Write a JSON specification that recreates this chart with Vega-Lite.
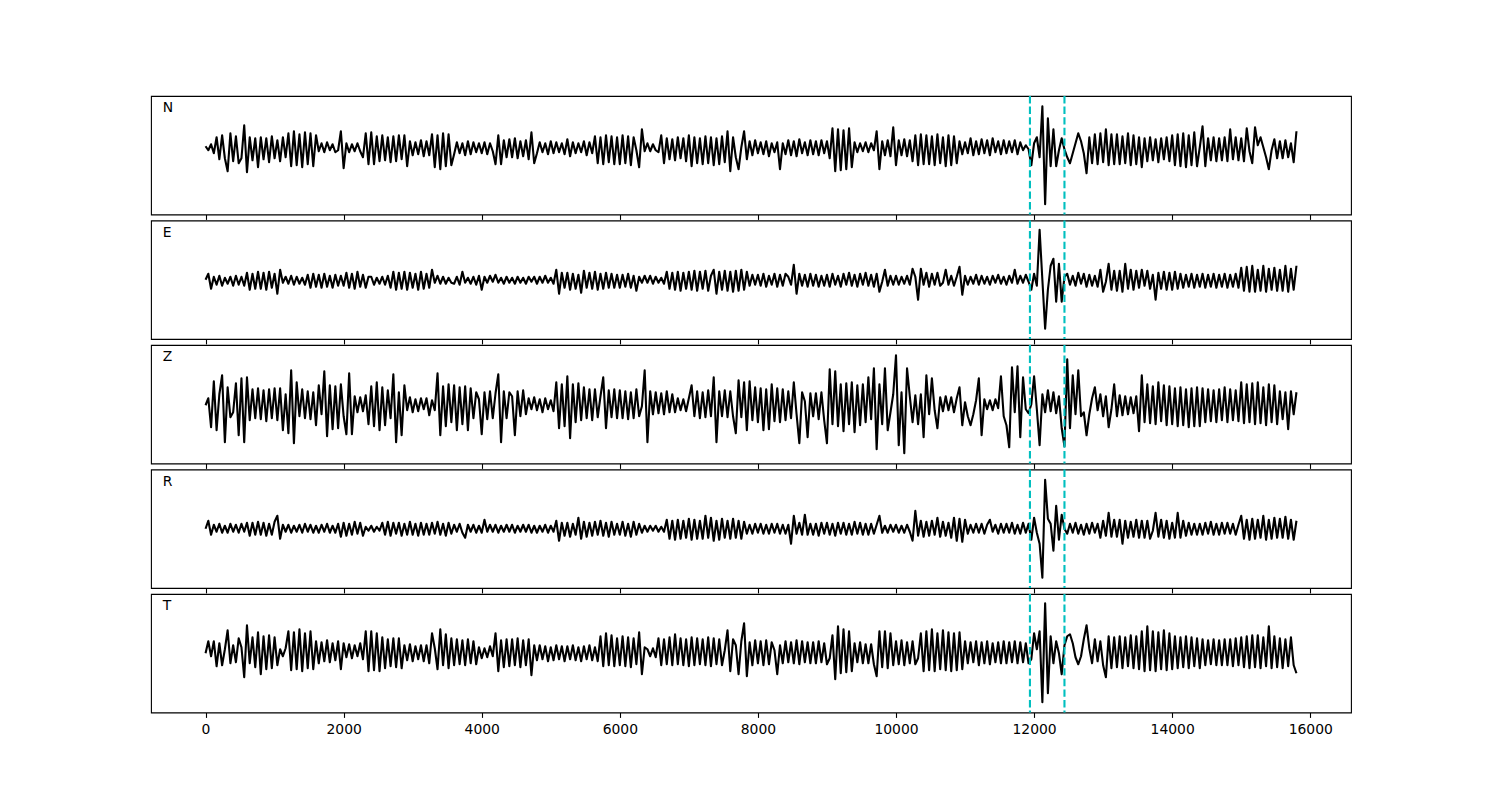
{
"$schema":"https://vega.github.io/schema/vega-lite/v6.json",
"background":"white",
"padding":{"left":150,"top":94,"right":0,"bottom":0},
"spacing":5.5,
"bounds":"flush",
"config":{"view":{"stroke":"black","strokeWidth":1.1},"font":"DejaVu Sans"},
"datasets":{
"picks":[{"t":11940},{"t":12440}],
"w":[
{"x":0,"N":9,"E":0,"Z":-1,"R":0,"T":0},
{"x":40,"N":5,"E":6,"Z":6,"R":8,"T":12},
{"x":80,"N":11,"E":-9,"Z":-23,"R":-6,"T":-3},
{"x":120,"N":2,"E":3,"Z":23,"R":4,"T":12},
{"x":160,"N":18,"E":-5,"Z":-26,"R":-3,"T":-13},
{"x":200,"N":-4,"E":4,"Z":10,"R":5,"T":10},
{"x":240,"N":20,"E":-6,"Z":29,"R":-4,"T":-12},
{"x":280,"N":-3,"E":2,"Z":-38,"R":3,"T":4},
{"x":320,"N":-16,"E":-4,"Z":17,"R":-4,"T":23},
{"x":360,"N":22,"E":3,"Z":-13,"R":5,"T":-10},
{"x":400,"N":-6,"E":-6,"Z":-8,"R":-3,"T":8},
{"x":440,"N":19,"E":4,"Z":21,"R":4,"T":-9},
{"x":480,"N":-8,"E":-5,"Z":-31,"R":-4,"T":15},
{"x":520,"N":-3,"E":3,"Z":26,"R":5,"T":6},
{"x":560,"N":30,"E":-6,"Z":-38,"R":-3,"T":-24},
{"x":600,"N":-17,"E":7,"Z":27,"R":6,"T":28},
{"x":640,"N":18,"E":-10,"Z":-16,"R":-7,"T":-10},
{"x":680,"N":-5,"E":6,"Z":15,"R":6,"T":16},
{"x":720,"N":17,"E":-9,"Z":-14,"R":-6,"T":-14},
{"x":760,"N":-12,"E":8,"Z":16,"R":7,"T":21},
{"x":800,"N":18,"E":-9,"Z":-15,"R":-6,"T":-21},
{"x":840,"N":-4,"E":7,"Z":14,"R":6,"T":17},
{"x":880,"N":17,"E":-10,"Z":-17,"R":-7,"T":-16},
{"x":920,"N":-7,"E":8,"Z":15,"R":5,"T":18},
{"x":960,"N":19,"E":-8,"Z":-14,"R":-6,"T":-15},
{"x":1000,"N":-3,"E":6,"Z":16,"R":7,"T":16},
{"x":1040,"N":15,"E":-14,"Z":-16,"R":13,"T":-12},
{"x":1080,"N":-6,"E":10,"Z":16,"R":-10,"T":4},
{"x":1120,"N":18,"E":-3,"Z":-26,"R":4,"T":-3},
{"x":1160,"N":-2,"E":3,"Z":10,"R":-3,"T":5},
{"x":1200,"N":22,"E":-4,"Z":-29,"R":4,"T":22},
{"x":1240,"N":-11,"E":4,"Z":34,"R":-4,"T":-17},
{"x":1280,"N":24,"E":-5,"Z":-39,"R":3,"T":21},
{"x":1320,"N":-10,"E":3,"Z":22,"R":-3,"T":-16},
{"x":1360,"N":21,"E":-4,"Z":-12,"R":4,"T":24},
{"x":1400,"N":-12,"E":2,"Z":15,"R":-4,"T":-18},
{"x":1440,"N":23,"E":-5,"Z":-14,"R":5,"T":20},
{"x":1480,"N":-9,"E":5,"Z":13,"R":-3,"T":-15},
{"x":1520,"N":22,"E":-8,"Z":-15,"R":4,"T":22},
{"x":1560,"N":-11,"E":6,"Z":12,"R":-4,"T":-16},
{"x":1600,"N":20,"E":-7,"Z":-21,"R":3,"T":12},
{"x":1640,"N":4,"E":5,"Z":19,"R":-4,"T":-10},
{"x":1680,"N":12,"E":-8,"Z":-10,"R":4,"T":11},
{"x":1720,"N":3,"E":6,"Z":33,"R":-3,"T":-8},
{"x":1760,"N":13,"E":-7,"Z":-32,"R":5,"T":13},
{"x":1800,"N":5,"E":4,"Z":19,"R":-4,"T":-9},
{"x":1840,"N":11,"E":-8,"Z":-25,"R":3,"T":10},
{"x":1880,"N":3,"E":5,"Z":18,"R":-4,"T":-7},
{"x":1920,"N":5,"E":-6,"Z":-24,"R":5,"T":12},
{"x":1960,"N":24,"E":4,"Z":20,"R":-8,"T":-16},
{"x":2000,"N":-13,"E":-6,"Z":-12,"R":6,"T":10},
{"x":2040,"N":12,"E":7,"Z":-30,"R":-7,"T":-4},
{"x":2080,"N":3,"E":-8,"Z":31,"R":5,"T":9},
{"x":2120,"N":11,"E":6,"Z":-30,"R":-6,"T":-5},
{"x":2160,"N":4,"E":-9,"Z":8,"R":7,"T":8},
{"x":2200,"N":12,"E":8,"Z":-8,"R":-5,"T":-3},
{"x":2240,"N":4,"E":-7,"Z":7,"R":6,"T":10},
{"x":2280,"N":-2,"E":5,"Z":-7,"R":-7,"T":-6},
{"x":2320,"N":22,"E":-8,"Z":9,"R":2,"T":22},
{"x":2360,"N":-9,"E":3,"Z":-20,"R":-2,"T":-18},
{"x":2400,"N":23,"E":3,"Z":18,"R":3,"T":22},
{"x":2440,"N":-9,"E":-5,"Z":-22,"R":-3,"T":-17},
{"x":2480,"N":19,"E":2,"Z":22,"R":2,"T":20},
{"x":2520,"N":-6,"E":-4,"Z":-26,"R":-2,"T":-18},
{"x":2560,"N":20,"E":3,"Z":17,"R":6,"T":16},
{"x":2600,"N":-5,"E":-5,"Z":-21,"R":-6,"T":-15},
{"x":2640,"N":18,"E":4,"Z":14,"R":7,"T":14},
{"x":2680,"N":-7,"E":-8,"Z":-14,"R":-7,"T":-13},
{"x":2720,"N":19,"E":8,"Z":30,"R":6,"T":15},
{"x":2760,"N":-6,"E":-10,"Z":-38,"R":-5,"T":-14},
{"x":2800,"N":20,"E":7,"Z":12,"R":6,"T":15},
{"x":2840,"N":-4,"E":-9,"Z":-31,"R":-7,"T":-15},
{"x":2880,"N":20,"E":8,"Z":19,"R":5,"T":8},
{"x":2920,"N":-11,"E":-10,"Z":-6,"R":-6,"T":-7},
{"x":2960,"N":14,"E":7,"Z":7,"R":7,"T":9},
{"x":3000,"N":0,"E":-8,"Z":-8,"R":-6,"T":-8},
{"x":3040,"N":13,"E":6,"Z":5,"R":5,"T":7},
{"x":3080,"N":1,"E":-10,"Z":-7,"R":-7,"T":-6},
{"x":3120,"N":15,"E":8,"Z":6,"R":6,"T":8},
{"x":3160,"N":-1,"E":-9,"Z":-5,"R":-6,"T":-8},
{"x":3200,"N":14,"E":6,"Z":6,"R":5,"T":8},
{"x":3240,"N":0,"E":-8,"Z":-11,"R":-6,"T":-10},
{"x":3280,"N":21,"E":10,"Z":4,"R":6,"T":20},
{"x":3320,"N":-12,"E":-3,"Z":-6,"R":-5,"T":5},
{"x":3360,"N":20,"E":4,"Z":31,"R":7,"T":-16},
{"x":3400,"N":-14,"E":-4,"Z":-31,"R":-6,"T":24},
{"x":3440,"N":22,"E":3,"Z":18,"R":5,"T":-12},
{"x":3480,"N":-11,"E":-4,"Z":-22,"R":-7,"T":19},
{"x":3520,"N":21,"E":2,"Z":20,"R":6,"T":-15},
{"x":3560,"N":-10,"E":-3,"Z":-18,"R":-5,"T":15},
{"x":3600,"N":1,"E":-4,"Z":19,"R":4,"T":-12},
{"x":3640,"N":13,"E":3,"Z":-26,"R":-3,"T":14},
{"x":3680,"N":2,"E":-5,"Z":17,"R":5,"T":-11},
{"x":3720,"N":12,"E":8,"Z":-20,"R":-4,"T":13},
{"x":3760,"N":0,"E":-3,"Z":18,"R":-9,"T":-12},
{"x":3800,"N":14,"E":2,"Z":-26,"R":4,"T":14},
{"x":3840,"N":1,"E":-4,"Z":16,"R":-3,"T":-10},
{"x":3880,"N":13,"E":3,"Z":-14,"R":4,"T":12},
{"x":3920,"N":3,"E":-5,"Z":12,"R":-4,"T":-11},
{"x":3960,"N":12,"E":4,"Z":5,"R":3,"T":6},
{"x":4000,"N":2,"E":-10,"Z":-30,"R":-4,"T":-5},
{"x":4040,"N":13,"E":3,"Z":12,"R":9,"T":5},
{"x":4080,"N":1,"E":-3,"Z":-15,"R":-3,"T":-4},
{"x":4120,"N":12,"E":4,"Z":13,"R":4,"T":7},
{"x":4160,"N":4,"E":-2,"Z":-14,"R":-3,"T":-3},
{"x":4200,"N":-9,"E":5,"Z":11,"R":4,"T":20},
{"x":4240,"N":20,"E":-3,"Z":30,"R":-4,"T":-18},
{"x":4280,"N":-9,"E":2,"Z":-38,"R":3,"T":13},
{"x":4320,"N":15,"E":-4,"Z":13,"R":-3,"T":-14},
{"x":4360,"N":-2,"E":3,"Z":-14,"R":4,"T":14},
{"x":4400,"N":16,"E":-3,"Z":12,"R":-3,"T":-13},
{"x":4440,"N":-2,"E":2,"Z":8,"R":4,"T":14},
{"x":4480,"N":17,"E":-4,"Z":-31,"R":-4,"T":-12},
{"x":4520,"N":-3,"E":3,"Z":13,"R":3,"T":15},
{"x":4560,"N":14,"E":-3,"Z":-12,"R":-3,"T":-14},
{"x":4600,"N":-1,"E":2,"Z":14,"R":4,"T":13},
{"x":4640,"N":15,"E":-4,"Z":-10,"R":-3,"T":-12},
{"x":4680,"N":-4,"E":3,"Z":6,"R":4,"T":14},
{"x":4720,"N":23,"E":-2,"Z":-5,"R":-4,"T":-22},
{"x":4760,"N":-8,"E":3,"Z":7,"R":3,"T":8},
{"x":4800,"N":2,"E":-4,"Z":-6,"R":-4,"T":-7},
{"x":4840,"N":13,"E":3,"Z":5,"R":3,"T":8},
{"x":4880,"N":3,"E":-3,"Z":-8,"R":-3,"T":-6},
{"x":4920,"N":12,"E":4,"Z":6,"R":4,"T":7},
{"x":4960,"N":1,"E":-3,"Z":-5,"R":-4,"T":-8},
{"x":5000,"N":14,"E":2,"Z":4,"R":3,"T":6},
{"x":5040,"N":2,"E":-4,"Z":-7,"R":-3,"T":-7},
{"x":5080,"N":13,"E":10,"Z":22,"R":8,"T":8},
{"x":5120,"N":3,"E":-14,"Z":-24,"R":-12,"T":-6},
{"x":5160,"N":12,"E":7,"Z":20,"R":6,"T":7},
{"x":5200,"N":1,"E":-8,"Z":-22,"R":-7,"T":-8},
{"x":5240,"N":16,"E":7,"Z":28,"R":6,"T":7},
{"x":5280,"N":-1,"E":-10,"Z":-34,"R":-8,"T":-6},
{"x":5320,"N":13,"E":6,"Z":20,"R":5,"T":8},
{"x":5360,"N":2,"E":-9,"Z":-18,"R":-6,"T":-7},
{"x":5400,"N":12,"E":5,"Z":21,"R":11,"T":6},
{"x":5440,"N":3,"E":-13,"Z":-16,"R":-10,"T":-8},
{"x":5480,"N":14,"E":9,"Z":17,"R":7,"T":7},
{"x":5520,"N":0,"E":-8,"Z":-14,"R":-8,"T":-6},
{"x":5560,"N":13,"E":7,"Z":15,"R":6,"T":8},
{"x":5600,"N":2,"E":-9,"Z":-16,"R":-7,"T":-7},
{"x":5640,"N":19,"E":8,"Z":15,"R":7,"T":6},
{"x":5680,"N":-8,"E":-10,"Z":-13,"R":-6,"T":-8},
{"x":5720,"N":18,"E":6,"Z":8,"R":8,"T":17},
{"x":5760,"N":-9,"E":-9,"Z":27,"R":-7,"T":-13},
{"x":5800,"N":20,"E":7,"Z":-24,"R":6,"T":20},
{"x":5840,"N":-7,"E":-8,"Z":14,"R":-8,"T":-12},
{"x":5880,"N":19,"E":6,"Z":-13,"R":7,"T":18},
{"x":5920,"N":-9,"E":-8,"Z":15,"R":-6,"T":-13},
{"x":5960,"N":18,"E":5,"Z":-14,"R":5,"T":15},
{"x":6000,"N":-9,"E":-8,"Z":14,"R":-6,"T":-12},
{"x":6040,"N":20,"E":5,"Z":-14,"R":7,"T":17},
{"x":6080,"N":-8,"E":-7,"Z":13,"R":-7,"T":-13},
{"x":6120,"N":19,"E":6,"Z":-15,"R":5,"T":16},
{"x":6160,"N":-10,"E":-8,"Z":12,"R":-8,"T":-14},
{"x":6200,"N":18,"E":4,"Z":-14,"R":7,"T":15},
{"x":6240,"N":5,"E":-11,"Z":15,"R":-6,"T":-11},
{"x":6280,"N":-12,"E":3,"Z":-12,"R":5,"T":21},
{"x":6320,"N":26,"E":-3,"Z":-2,"R":-4,"T":-21},
{"x":6360,"N":4,"E":4,"Z":34,"R":3,"T":6},
{"x":6400,"N":12,"E":-3,"Z":-38,"R":-3,"T":4},
{"x":6440,"N":4,"E":4,"Z":13,"R":3,"T":-3},
{"x":6480,"N":11,"E":-4,"Z":-10,"R":-2,"T":5},
{"x":6520,"N":5,"E":3,"Z":12,"R":3,"T":-4},
{"x":6560,"N":3,"E":-3,"Z":-9,"R":-3,"T":15},
{"x":6600,"N":20,"E":2,"Z":11,"R":2,"T":-12},
{"x":6640,"N":-8,"E":-4,"Z":-10,"R":-3,"T":14},
{"x":6680,"N":17,"E":8,"Z":13,"R":9,"T":-11},
{"x":6720,"N":-4,"E":-9,"Z":-8,"R":-10,"T":16},
{"x":6760,"N":16,"E":7,"Z":10,"R":8,"T":-12},
{"x":6800,"N":-5,"E":-10,"Z":-8,"R":-11,"T":19},
{"x":6840,"N":18,"E":8,"Z":6,"R":9,"T":-11},
{"x":6880,"N":-3,"E":-11,"Z":-6,"R":-10,"T":15},
{"x":6920,"N":17,"E":7,"Z":5,"R":8,"T":-12},
{"x":6960,"N":-6,"E":-9,"Z":-7,"R":-9,"T":14},
{"x":7000,"N":20,"E":8,"Z":6,"R":10,"T":-13},
{"x":7040,"N":-11,"E":-10,"Z":19,"R":-11,"T":16},
{"x":7080,"N":18,"E":9,"Z":-12,"R":9,"T":-12},
{"x":7120,"N":-8,"E":-11,"Z":13,"R":-10,"T":15},
{"x":7160,"N":17,"E":8,"Z":-14,"R":8,"T":-11},
{"x":7200,"N":-9,"E":-9,"Z":12,"R":-10,"T":14},
{"x":7240,"N":19,"E":9,"Z":-13,"R":13,"T":-12},
{"x":7280,"N":-8,"E":-11,"Z":14,"R":-9,"T":16},
{"x":7320,"N":18,"E":4,"Z":-12,"R":11,"T":-13},
{"x":7360,"N":-10,"E":10,"Z":27,"R":-12,"T":15},
{"x":7400,"N":17,"E":-14,"Z":-38,"R":8,"T":-11},
{"x":7440,"N":-9,"E":8,"Z":13,"R":-11,"T":14},
{"x":7480,"N":19,"E":-10,"Z":-12,"R":10,"T":-12},
{"x":7520,"N":-7,"E":9,"Z":14,"R":-9,"T":3},
{"x":7560,"N":24,"E":-11,"Z":-13,"R":8,"T":23},
{"x":7600,"N":-16,"E":8,"Z":13,"R":-10,"T":-18},
{"x":7640,"N":18,"E":-12,"Z":-12,"R":10,"T":14},
{"x":7680,"N":-2,"E":9,"Z":-29,"R":-9,"T":8},
{"x":7720,"N":-14,"E":-11,"Z":24,"R":8,"T":-21},
{"x":7760,"N":8,"E":10,"Z":-13,"R":-10,"T":12},
{"x":7800,"N":24,"E":-10,"Z":22,"R":7,"T":30},
{"x":7840,"N":-4,"E":8,"Z":-26,"R":-5,"T":-23},
{"x":7880,"N":14,"E":-6,"Z":23,"R":4,"T":11},
{"x":7920,"N":0,"E":5,"Z":-16,"R":-5,"T":-12},
{"x":7960,"N":15,"E":-5,"Z":17,"R":5,"T":13},
{"x":8000,"N":2,"E":5,"Z":-18,"R":-4,"T":-10},
{"x":8040,"N":13,"E":-6,"Z":16,"R":5,"T":12},
{"x":8080,"N":1,"E":6,"Z":-26,"R":-5,"T":-12},
{"x":8120,"N":14,"E":-7,"Z":15,"R":4,"T":13},
{"x":8160,"N":-1,"E":4,"Z":-25,"R":-5,"T":-11},
{"x":8200,"N":12,"E":-5,"Z":20,"R":5,"T":11},
{"x":8240,"N":3,"E":6,"Z":-17,"R":-4,"T":3},
{"x":8280,"N":13,"E":-7,"Z":16,"R":5,"T":-21},
{"x":8320,"N":-14,"E":5,"Z":-18,"R":-5,"T":8},
{"x":8360,"N":12,"E":-6,"Z":15,"R":4,"T":-10},
{"x":8400,"N":1,"E":6,"Z":-16,"R":-5,"T":12},
{"x":8440,"N":15,"E":3,"Z":13,"R":4,"T":-9},
{"x":8480,"N":0,"E":-5,"Z":-14,"R":-15,"T":11},
{"x":8520,"N":14,"E":15,"Z":22,"R":13,"T":-10},
{"x":8560,"N":-1,"E":-14,"Z":-10,"R":-5,"T":13},
{"x":8600,"N":16,"E":6,"Z":-39,"R":6,"T":-11},
{"x":8640,"N":2,"E":-6,"Z":12,"R":-6,"T":12},
{"x":8680,"N":13,"E":5,"Z":3,"R":14,"T":-9},
{"x":8720,"N":0,"E":-7,"Z":-33,"R":-6,"T":11},
{"x":8760,"N":15,"E":6,"Z":11,"R":5,"T":-10},
{"x":8800,"N":1,"E":-6,"Z":-12,"R":-6,"T":11},
{"x":8840,"N":14,"E":5,"Z":11,"R":5,"T":-10},
{"x":8880,"N":0,"E":-7,"Z":-15,"R":-7,"T":12},
{"x":8920,"N":15,"E":4,"Z":12,"R":6,"T":-9},
{"x":8960,"N":2,"E":-6,"Z":-16,"R":-5,"T":10},
{"x":9000,"N":14,"E":5,"Z":-39,"R":6,"T":-11},
{"x":9040,"N":-3,"E":-7,"Z":35,"R":-6,"T":-5},
{"x":9080,"N":27,"E":6,"Z":-20,"R":5,"T":18},
{"x":9120,"N":-16,"E":-5,"Z":33,"R":-7,"T":-26},
{"x":9160,"N":26,"E":4,"Z":-22,"R":6,"T":27},
{"x":9200,"N":-15,"E":-7,"Z":20,"R":-5,"T":-20},
{"x":9240,"N":25,"E":6,"Z":-27,"R":6,"T":24},
{"x":9280,"N":-14,"E":-5,"Z":21,"R":-6,"T":-19},
{"x":9320,"N":27,"E":7,"Z":-20,"R":5,"T":22},
{"x":9360,"N":-12,"E":-6,"Z":22,"R":-6,"T":-18},
{"x":9400,"N":13,"E":5,"Z":-28,"R":7,"T":10},
{"x":9440,"N":3,"E":-7,"Z":19,"R":-5,"T":-9},
{"x":9480,"N":12,"E":6,"Z":-21,"R":6,"T":11},
{"x":9520,"N":4,"E":-5,"Z":20,"R":-6,"T":-10},
{"x":9560,"N":13,"E":7,"Z":-18,"R":5,"T":9},
{"x":9600,"N":3,"E":-6,"Z":27,"R":-6,"T":-10},
{"x":9640,"N":12,"E":5,"Z":-15,"R":5,"T":9},
{"x":9680,"N":5,"E":-7,"Z":36,"R":-5,"T":-11},
{"x":9720,"N":24,"E":6,"Z":-45,"R":4,"T":-23},
{"x":9760,"N":-14,"E":-12,"Z":20,"R":13,"T":22},
{"x":9800,"N":14,"E":-2,"Z":-20,"R":-4,"T":-14},
{"x":9840,"N":0,"E":10,"Z":36,"R":3,"T":22},
{"x":9880,"N":15,"E":-6,"Z":-26,"R":-4,"T":-15},
{"x":9920,"N":-1,"E":4,"Z":-8,"R":4,"T":20},
{"x":9960,"N":28,"E":-5,"Z":10,"R":-3,"T":-12},
{"x":10000,"N":-10,"E":4,"Z":49,"R":4,"T":12},
{"x":10040,"N":15,"E":-5,"Z":-41,"R":-4,"T":-11},
{"x":10080,"N":0,"E":3,"Z":12,"R":3,"T":13},
{"x":10120,"N":16,"E":-4,"Z":-49,"R":-4,"T":-12},
{"x":10160,"N":-1,"E":4,"Z":36,"R":4,"T":11},
{"x":10200,"N":15,"E":-5,"Z":8,"R":-3,"T":-10},
{"x":10240,"N":-6,"E":11,"Z":-18,"R":-12,"T":12},
{"x":10280,"N":20,"E":3,"Z":9,"R":18,"T":-11},
{"x":10320,"N":-10,"E":-20,"Z":-20,"R":-7,"T":-5},
{"x":10360,"N":21,"E":11,"Z":10,"R":8,"T":20},
{"x":10400,"N":-9,"E":-5,"Z":-33,"R":-8,"T":-18},
{"x":10440,"N":20,"E":7,"Z":29,"R":7,"T":22},
{"x":10480,"N":-9,"E":-7,"Z":-10,"R":-7,"T":-17},
{"x":10520,"N":19,"E":6,"Z":26,"R":8,"T":24},
{"x":10560,"N":-10,"E":-5,"Z":-6,"R":-6,"T":-18},
{"x":10600,"N":21,"E":7,"Z":-24,"R":11,"T":20},
{"x":10640,"N":-8,"E":-6,"Z":7,"R":-8,"T":-16},
{"x":10680,"N":18,"E":-3,"Z":-7,"R":7,"T":23},
{"x":10720,"N":-11,"E":10,"Z":8,"R":-7,"T":-17},
{"x":10760,"N":20,"E":-5,"Z":-6,"R":6,"T":21},
{"x":10800,"N":-10,"E":4,"Z":7,"R":-9,"T":-18},
{"x":10840,"N":19,"E":-6,"Z":-8,"R":11,"T":20},
{"x":10880,"N":-8,"E":3,"Z":6,"R":-12,"T":-17},
{"x":10920,"N":14,"E":13,"Z":17,"R":10,"T":21},
{"x":10960,"N":1,"E":-15,"Z":-21,"R":-13,"T":-16},
{"x":11000,"N":13,"E":4,"Z":2,"R":9,"T":12},
{"x":11040,"N":2,"E":-5,"Z":-12,"R":-5,"T":-10},
{"x":11080,"N":17,"E":3,"Z":-21,"R":4,"T":11},
{"x":11120,"N":0,"E":-4,"Z":-10,"R":-4,"T":-9},
{"x":11160,"N":14,"E":5,"Z":4,"R":5,"T":12},
{"x":11200,"N":1,"E":-5,"Z":26,"R":-4,"T":-12},
{"x":11240,"N":16,"E":4,"Z":-31,"R":5,"T":11},
{"x":11280,"N":2,"E":-4,"Z":5,"R":-5,"T":-10},
{"x":11320,"N":15,"E":3,"Z":-5,"R":4,"T":12},
{"x":11360,"N":0,"E":-5,"Z":4,"R":9,"T":-11},
{"x":11400,"N":17,"E":4,"Z":-6,"R":-3,"T":10},
{"x":11440,"N":3,"E":-3,"Z":5,"R":4,"T":-9},
{"x":11480,"N":14,"E":5,"Z":-4,"R":-5,"T":11},
{"x":11520,"N":1,"E":-4,"Z":28,"R":5,"T":-10},
{"x":11560,"N":15,"E":3,"Z":-12,"R":-4,"T":12},
{"x":11600,"N":2,"E":-5,"Z":-21,"R":5,"T":-10},
{"x":11640,"N":14,"E":4,"Z":-43,"R":-4,"T":11},
{"x":11680,"N":3,"E":-3,"Z":37,"R":6,"T":-9},
{"x":11720,"N":15,"E":10,"Z":-8,"R":-5,"T":12},
{"x":11760,"N":1,"E":-4,"Z":38,"R":4,"T":-10},
{"x":11800,"N":13,"E":4,"Z":-33,"R":-5,"T":11},
{"x":11840,"N":5,"E":-3,"Z":27,"R":6,"T":-9},
{"x":11880,"N":10,"E":5,"Z":-5,"R":-4,"T":10},
{"x":11920,"N":6,"E":-2,"Z":-9,"R":5,"T":-10},
{"x":11960,"N":-10,"E":-10,"Z":0,"R":-11,"T":-6},
{"x":12000,"N":12,"E":6,"Z":28,"R":11,"T":20},
{"x":12040,"N":18,"E":-6,"Z":-5,"R":-4,"T":4},
{"x":12080,"N":-2,"E":50,"Z":-41,"R":-15,"T":22},
{"x":12120,"N":49,"E":0,"Z":10,"R":-49,"T":-49},
{"x":12160,"N":-49,"E":-49,"Z":-8,"R":49,"T":50},
{"x":12200,"N":37,"E":-10,"Z":14,"R":10,"T":-40},
{"x":12240,"N":-11,"E":14,"Z":-7,"R":5,"T":17},
{"x":12280,"N":26,"E":21,"Z":12,"R":-22,"T":-10},
{"x":12320,"N":-11,"E":-22,"Z":-9,"R":23,"T":12},
{"x":12360,"N":5,"E":16,"Z":8,"R":-11,"T":0},
{"x":12400,"N":17,"E":-22,"Z":-24,"R":14,"T":-21},
{"x":12440,"N":6,"E":3,"Z":-42,"R":0,"T":8},
{"x":12480,"N":-2,"E":6,"Z":45,"R":-5,"T":17},
{"x":12520,"N":-8,"E":-5,"Z":-24,"R":5,"T":19},
{"x":12560,"N":2,"E":4,"Z":29,"R":-4,"T":10},
{"x":12600,"N":12,"E":-6,"Z":-10,"R":6,"T":-4},
{"x":12640,"N":22,"E":7,"Z":34,"R":-5,"T":-11},
{"x":12680,"N":14,"E":-4,"Z":-12,"R":4,"T":-3},
{"x":12720,"N":2,"E":6,"Z":-8,"R":-6,"T":14},
{"x":12760,"N":-18,"E":-7,"Z":-31,"R":5,"T":28},
{"x":12800,"N":18,"E":5,"Z":-10,"R":-5,"T":5},
{"x":12840,"N":-8,"E":-6,"Z":6,"R":6,"T":-10},
{"x":12880,"N":21,"E":4,"Z":17,"R":-4,"T":14},
{"x":12920,"N":-9,"E":-7,"Z":-6,"R":5,"T":-8},
{"x":12960,"N":22,"E":10,"Z":10,"R":-9,"T":12},
{"x":13000,"N":-7,"E":-12,"Z":-12,"R":8,"T":-12},
{"x":13040,"N":26,"E":-2,"Z":8,"R":-7,"T":-24},
{"x":13080,"N":-10,"E":16,"Z":-23,"R":16,"T":17},
{"x":13120,"N":21,"E":-10,"Z":-5,"R":-8,"T":-15},
{"x":13160,"N":-9,"E":9,"Z":20,"R":9,"T":16},
{"x":13200,"N":21,"E":-11,"Z":-12,"R":-8,"T":-14},
{"x":13240,"N":-9,"E":9,"Z":9,"R":9,"T":17},
{"x":13280,"N":19,"E":-12,"Z":-11,"R":-15,"T":-15},
{"x":13320,"N":-8,"E":16,"Z":8,"R":8,"T":16},
{"x":13360,"N":22,"E":-9,"Z":-10,"R":-9,"T":-13},
{"x":13400,"N":-10,"E":10,"Z":7,"R":7,"T":18},
{"x":13440,"N":20,"E":-10,"Z":-9,"R":-8,"T":-15},
{"x":13480,"N":-9,"E":9,"Z":8,"R":9,"T":17},
{"x":13520,"N":18,"E":-8,"Z":-27,"R":-9,"T":-16},
{"x":13560,"N":-12,"E":10,"Z":29,"R":8,"T":22},
{"x":13600,"N":17,"E":-6,"Z":-18,"R":-9,"T":-18},
{"x":13640,"N":-6,"E":9,"Z":20,"R":8,"T":27},
{"x":13680,"N":18,"E":-9,"Z":-19,"R":-10,"T":-17},
{"x":13720,"N":-5,"E":5,"Z":18,"R":-2,"T":22},
{"x":13760,"N":16,"E":-20,"Z":-20,"R":16,"T":-18},
{"x":13800,"N":-7,"E":7,"Z":22,"R":-8,"T":21},
{"x":13840,"N":17,"E":-9,"Z":-17,"R":9,"T":-16},
{"x":13880,"N":-4,"E":8,"Z":19,"R":-9,"T":23},
{"x":13920,"N":18,"E":-10,"Z":-21,"R":8,"T":-17},
{"x":13960,"N":-6,"E":7,"Z":18,"R":-10,"T":20},
{"x":14000,"N":20,"E":-10,"Z":-20,"R":6,"T":-16},
{"x":14040,"N":-10,"E":8,"Z":16,"R":-9,"T":17},
{"x":14080,"N":21,"E":-9,"Z":-22,"R":16,"T":-15},
{"x":14120,"N":-11,"E":6,"Z":17,"R":-9,"T":16},
{"x":14160,"N":22,"E":-8,"Z":-21,"R":8,"T":-14},
{"x":14200,"N":-12,"E":5,"Z":15,"R":-7,"T":17},
{"x":14240,"N":20,"E":-7,"Z":-23,"R":6,"T":-15},
{"x":14280,"N":-10,"E":6,"Z":16,"R":-6,"T":16},
{"x":14320,"N":23,"E":-8,"Z":-22,"R":5,"T":-13},
{"x":14360,"N":-11,"E":5,"Z":17,"R":-6,"T":15},
{"x":14400,"N":8,"E":-7,"Z":-22,"R":5,"T":-15},
{"x":14440,"N":29,"E":6,"Z":16,"R":-6,"T":14},
{"x":14480,"N":-11,"E":-8,"Z":-18,"R":6,"T":-12},
{"x":14520,"N":17,"E":5,"Z":15,"R":-5,"T":13},
{"x":14560,"N":-5,"E":-7,"Z":-17,"R":7,"T":-11},
{"x":14600,"N":18,"E":6,"Z":14,"R":-6,"T":14},
{"x":14640,"N":-6,"E":-8,"Z":-18,"R":5,"T":-12},
{"x":14680,"N":17,"E":5,"Z":15,"R":-6,"T":13},
{"x":14720,"N":-5,"E":-7,"Z":-16,"R":6,"T":-12},
{"x":14760,"N":18,"E":6,"Z":17,"R":-5,"T":14},
{"x":14800,"N":-6,"E":-8,"Z":-18,"R":6,"T":-12},
{"x":14840,"N":26,"E":5,"Z":15,"R":-5,"T":14},
{"x":14880,"N":-4,"E":-7,"Z":-16,"R":5,"T":-13},
{"x":14920,"N":18,"E":6,"Z":14,"R":-6,"T":15},
{"x":14960,"N":-5,"E":-8,"Z":-17,"R":4,"T":-12},
{"x":15000,"N":17,"E":12,"Z":22,"R":13,"T":16},
{"x":15040,"N":-6,"E":-11,"Z":-19,"R":-10,"T":-14},
{"x":15080,"N":27,"E":13,"Z":20,"R":9,"T":17},
{"x":15120,"N":4,"E":-12,"Z":-18,"R":-11,"T":-15},
{"x":15160,"N":-8,"E":14,"Z":21,"R":10,"T":18},
{"x":15200,"N":28,"E":-12,"Z":-20,"R":-10,"T":-14},
{"x":15240,"N":10,"E":10,"Z":22,"R":9,"T":18},
{"x":15280,"N":18,"E":-11,"Z":-19,"R":-9,"T":-15},
{"x":15320,"N":8,"E":14,"Z":17,"R":13,"T":16},
{"x":15360,"N":-2,"E":-12,"Z":-21,"R":-11,"T":-13},
{"x":15400,"N":-14,"E":11,"Z":20,"R":9,"T":27},
{"x":15440,"N":5,"E":-10,"Z":-18,"R":-10,"T":-15},
{"x":15480,"N":16,"E":12,"Z":19,"R":11,"T":17},
{"x":15520,"N":-3,"E":-11,"Z":-20,"R":-9,"T":-14},
{"x":15560,"N":14,"E":10,"Z":13,"R":10,"T":15},
{"x":15600,"N":-3,"E":-11,"Z":-15,"R":-9,"T":-15},
{"x":15640,"N":15,"E":14,"Z":12,"R":12,"T":14},
{"x":15680,"N":-2,"E":-12,"Z":-25,"R":-10,"T":-13},
{"x":15720,"N":12,"E":11,"Z":13,"R":9,"T":16},
{"x":15760,"N":-7,"E":-10,"Z":-10,"R":-11,"T":-12},
{"x":15800,"N":24,"E":14,"Z":12,"R":8,"T":-20}
]},
"vconcat":[
{"width":1200,"height":118.5,"layer":[
{"data":{"name":"w"},"mark":{"type":"line","color":"black","strokeWidth":2.1,"strokeJoin":"round"},
"encoding":{"x":{"field":"x","type":"quantitative","scale":{"domain":[-790,16590],"nice":false,"zero":false},"axis":{"values":[0,2000,4000,6000,8000,10000,12000,14000,16000],"labels":false,"title":null,"grid":false,"domain":false,"tickColor":"black","tickSize":4.9,"tickWidth":1.1}},
"y":{"field":"N","type":"quantitative","scale":{"domain":[-59.25,59.25],"nice":false,"zero":false},"axis":null}}},
{"data":{"name":"picks"},"mark":{"type":"rule","color":"#00BFBF","strokeWidth":2.1,"strokeDash":[7.4,3.2]},"encoding":{"x":{"field":"t","type":"quantitative","title":null}}},
{"data":{"values":[{"c":"N"}]},"mark":{"type":"text","align":"left","baseline":"middle","font":"DejaVu Sans","fontSize":13.9,"color":"black"},"encoding":{"x":{"datum":-620},"y":{"datum":47,"axis":null},"text":{"field":"c"}}}
]},
{"width":1200,"height":118.5,"layer":[
{"data":{"name":"w"},"mark":{"type":"line","color":"black","strokeWidth":2.1,"strokeJoin":"round"},
"encoding":{"x":{"field":"x","type":"quantitative","scale":{"domain":[-790,16590],"nice":false,"zero":false},"axis":{"values":[0,2000,4000,6000,8000,10000,12000,14000,16000],"labels":false,"title":null,"grid":false,"domain":false,"tickColor":"black","tickSize":4.9,"tickWidth":1.1}},
"y":{"field":"E","type":"quantitative","scale":{"domain":[-59.25,59.25],"nice":false,"zero":false},"axis":null}}},
{"data":{"name":"picks"},"mark":{"type":"rule","color":"#00BFBF","strokeWidth":2.1,"strokeDash":[7.4,3.2]},"encoding":{"x":{"field":"t","type":"quantitative","title":null}}},
{"data":{"values":[{"c":"E"}]},"mark":{"type":"text","align":"left","baseline":"middle","font":"DejaVu Sans","fontSize":13.9,"color":"black"},"encoding":{"x":{"datum":-620},"y":{"datum":47,"axis":null},"text":{"field":"c"}}}
]},
{"width":1200,"height":118.5,"layer":[
{"data":{"name":"w"},"mark":{"type":"line","color":"black","strokeWidth":2.1,"strokeJoin":"round"},
"encoding":{"x":{"field":"x","type":"quantitative","scale":{"domain":[-790,16590],"nice":false,"zero":false},"axis":{"values":[0,2000,4000,6000,8000,10000,12000,14000,16000],"labels":false,"title":null,"grid":false,"domain":false,"tickColor":"black","tickSize":4.9,"tickWidth":1.1}},
"y":{"field":"Z","type":"quantitative","scale":{"domain":[-59.25,59.25],"nice":false,"zero":false},"axis":null}}},
{"data":{"name":"picks"},"mark":{"type":"rule","color":"#00BFBF","strokeWidth":2.1,"strokeDash":[7.4,3.2]},"encoding":{"x":{"field":"t","type":"quantitative","title":null}}},
{"data":{"values":[{"c":"Z"}]},"mark":{"type":"text","align":"left","baseline":"middle","font":"DejaVu Sans","fontSize":13.9,"color":"black"},"encoding":{"x":{"datum":-620},"y":{"datum":47,"axis":null},"text":{"field":"c"}}}
]},
{"width":1200,"height":118.5,"layer":[
{"data":{"name":"w"},"mark":{"type":"line","color":"black","strokeWidth":2.1,"strokeJoin":"round"},
"encoding":{"x":{"field":"x","type":"quantitative","scale":{"domain":[-790,16590],"nice":false,"zero":false},"axis":{"values":[0,2000,4000,6000,8000,10000,12000,14000,16000],"labels":false,"title":null,"grid":false,"domain":false,"tickColor":"black","tickSize":4.9,"tickWidth":1.1}},
"y":{"field":"R","type":"quantitative","scale":{"domain":[-59.25,59.25],"nice":false,"zero":false},"axis":null}}},
{"data":{"name":"picks"},"mark":{"type":"rule","color":"#00BFBF","strokeWidth":2.1,"strokeDash":[7.4,3.2]},"encoding":{"x":{"field":"t","type":"quantitative","title":null}}},
{"data":{"values":[{"c":"R"}]},"mark":{"type":"text","align":"left","baseline":"middle","font":"DejaVu Sans","fontSize":13.9,"color":"black"},"encoding":{"x":{"datum":-620},"y":{"datum":47,"axis":null},"text":{"field":"c"}}}
]},
{"width":1200,"height":118.5,"layer":[
{"data":{"name":"w"},"mark":{"type":"line","color":"black","strokeWidth":2.1,"strokeJoin":"round"},
"encoding":{"x":{"field":"x","type":"quantitative","scale":{"domain":[-790,16590],"nice":false,"zero":false},"axis":{"values":[0,2000,4000,6000,8000,10000,12000,14000,16000],"labels":true,"format":"d","labelColor":"black","labelFont":"DejaVu Sans","labelFontSize":13.9,"labelPadding":4.9,"labelFlush":false,"labelOverlap":false,"title":null,"grid":false,"domain":false,"tickColor":"black","tickSize":4.9,"tickWidth":1.1}},
"y":{"field":"T","type":"quantitative","scale":{"domain":[-59.25,59.25],"nice":false,"zero":false},"axis":null}}},
{"data":{"name":"picks"},"mark":{"type":"rule","color":"#00BFBF","strokeWidth":2.1,"strokeDash":[7.4,3.2]},"encoding":{"x":{"field":"t","type":"quantitative","title":null}}},
{"data":{"values":[{"c":"T"}]},"mark":{"type":"text","align":"left","baseline":"middle","font":"DejaVu Sans","fontSize":13.9,"color":"black"},"encoding":{"x":{"datum":-620},"y":{"datum":47,"axis":null},"text":{"field":"c"}}}
]}
]
}
